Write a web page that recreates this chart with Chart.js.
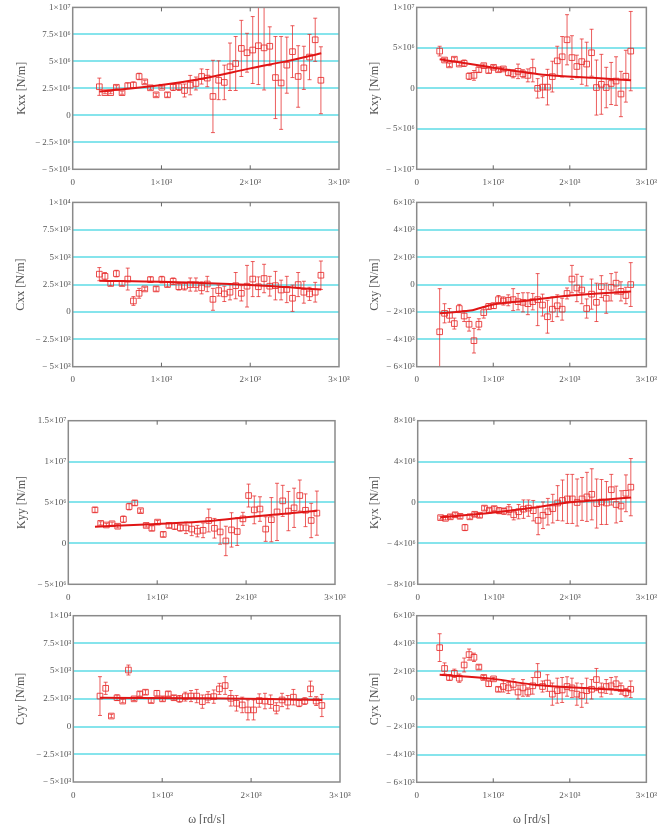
<!DOCTYPE html>
<html>
<head>
<meta charset="utf-8">
<script src="https://cdn.jsdelivr.net/npm/chart.js@4"></script>
<style>
  html, body { margin: 0; padding: 0; background: #fff; overflow: hidden; width: 665px; height: 824px; }
  canvas { position: absolute; }
</style>
</head>
<body>
<script>
// shared frequency axis, rad/s
const omega = [300, 364, 428, 492, 556, 620, 684, 748, 812, 876, 940, 1004, 1068, 1132, 1196, 1260, 1324, 1388, 1452, 1516,
  1580, 1644, 1708, 1772, 1836, 1900, 1964, 2028, 2092, 2156, 2220, 2284, 2348, 2412, 2476, 2540, 2604, 2668, 2732, 2796];
const omegaTicks = ['0', '1×10³', '2×10³', '3×10³'];

// Kxx, in 1e6 N/m
const kxxVal = [2.65, 2.1, 2.1, 2.6, 2.1, 2.75, 2.8, 3.6, 3.1, 2.55, 1.9, 2.6, 1.9, 2.6, 2.65, 2.3, 2.8, 2.95, 3.6, 3.45,
  1.75, 3.25, 3.05, 4.5, 4.8, 6.2, 5.8, 6.05, 6.45, 6.25, 6.4, 3.5, 3.0, 4.65, 5.9, 3.6, 4.4, 5.4, 7.0, 3.25];
const kxxErr = [0.8, 0.1, 0.1, 0.15, 0.15, 0.25, 0.3, 0.3, 0.15, 0.15, 0.15, 0.1, 0.2, 0.3, 0.35, 0.6, 0.9, 0.6, 0.7, 0.8,
  3.35, 1.8, 1.6, 2.2, 2.5, 2.6, 1.8, 3.1, 3.6, 3.9, 1.8, 3.8, 4.3, 2.6, 2.4, 2.85, 2.0, 2.1, 2.0, 3.1];
const kxxFitW = [300, 1000, 1500, 2000, 2400, 2800];
const kxxFit = [2.2, 2.8, 3.45, 4.35, 5.0, 5.75];
const kxxTicks = ['− 5×10⁶', '− 2.5×10⁶', '0', '2.5×10⁶', '5×10⁶', '7.5×10⁶', '1×10⁷'];

// Kxy, in 1e6 N/m
const kxyVal = [4.6, 3.5, 2.9, 3.6, 3.0, 3.1, 1.5, 1.6, 2.3, 2.8, 2.2, 2.6, 2.3, 2.4, 1.95, 1.8, 2.1, 1.8, 1.6, 2.2,
  0.0, 0.15, 0.15, 1.45, 3.4, 3.9, 6.0, 3.8, 2.7, 3.3, 3.0, 4.4, 0.1, 0.5, 0.1, 0.6, 0.9, -0.7, 1.5, 4.6];
const kxyErr = [0.6, 0.2, 0.2, 0.2, 0.2, 0.4, 0.4, 0.6, 0.3, 0.2, 0.3, 0.2, 0.2, 0.2, 0.4, 0.5, 0.9, 0.5, 0.8, 1.4,
  1.2, 1.3, 2.2, 1.9, 1.8, 2.5, 3.1, 2.7, 1.4, 2.8, 2.7, 2.9, 3.4, 3.7, 2.5, 2.6, 3.0, 2.8, 3.2, 4.9];
const kxyFitW = [300, 1000, 1700, 2300, 2800];
const kxyFit = [3.6, 2.55, 1.65, 1.3, 1.0];
const kxyTicks = ['− 1×10⁷', '− 5×10⁶', '0', '5×10⁶', '1×10⁷'];

// Cxx, in 1e3
const cxxVal = [3.45, 3.25, 2.6, 3.5, 2.6, 3.0, 1.0, 1.7, 2.1, 2.95, 2.1, 2.95, 2.5, 2.8, 2.3, 2.35, 2.5, 2.5, 2.2, 2.55,
  1.15, 1.95, 1.65, 1.8, 2.4, 1.7, 2.35, 3.0, 2.3, 3.05, 2.35, 2.4, 2.0, 2.05, 1.25, 2.5, 1.8, 1.65, 1.8, 3.35];
const cxxErr = [0.6, 0.35, 0.2, 0.3, 0.2, 1.0, 0.4, 0.45, 0.15, 0.25, 0.2, 0.3, 0.2, 0.3, 0.3, 0.35, 0.6, 0.6, 0.55, 0.7,
  1.0, 0.5, 0.7, 0.7, 1.2, 0.7, 1.9, 1.6, 0.9, 1.3, 0.9, 1.3, 0.9, 1.2, 1.2, 1.1, 1.0, 0.6, 0.9, 1.3];
const cxxFitW = [300, 1000, 2000, 2800];
const cxxFit = [2.85, 2.75, 2.45, 2.05];
const cxxTicks = ['− 5×10³', '− 2.5×10³', '0', '2.5×10³', '5×10³', '7.5×10³', '1×10⁴'];

// Cxy, in 1e3
const cxyVal = [-3.45, -2.1, -2.25, -2.85, -1.75, -2.3, -2.9, -4.1, -2.9, -2.05, -1.6, -1.55, -1.1, -1.2, -1.15, -1.1, -1.25, -1.3, -1.4, -1.25,
  -1.1, -1.5, -2.35, -1.8, -1.55, -1.8, -0.65, 0.4, -0.25, -0.4, -1.75, -0.7, -1.3, -0.15, -1.0, -0.2, 0.1, -0.5, -0.8, 0.0];
const cxyErr = [3.15, 0.7, 0.5, 0.4, 0.3, 0.4, 0.5, 0.9, 0.4, 0.4, 0.2, 0.2, 0.3, 0.3, 0.4, 0.8, 0.6, 0.7, 0.8, 0.6,
  1.9, 0.8, 1.2, 0.9, 0.8, 0.8, 0.4, 1.0, 1.0, 1.0, 0.7, 1.1, 1.4, 0.8, 1.1, 1.0, 0.8, 0.7, 0.6, 1.6];
const cxyFitW = [300, 700, 1000, 1400, 2000, 2800];
const cxyFit = [-2.1, -1.9, -1.45, -1.2, -0.8, -0.5];
const cxyTicks = ['− 6×10³', '− 4×10³', '− 2×10³', '0', '2×10³', '4×10³', '6×10³'];

// Kyy, in 1e6 N/m
const kyyVal = [4.1, 2.45, 2.25, 2.4, 2.1, 2.95, 4.5, 4.95, 4.0, 2.2, 1.85, 2.6, 1.1, 2.2, 2.1, 1.9, 1.9, 1.75, 1.5, 1.6,
  2.8, 1.85, 1.4, 0.3, 1.65, 1.45, 3.0, 5.85, 4.1, 4.2, 1.75, 2.9, 3.85, 5.2, 3.95, 4.35, 5.85, 4.05, 2.8, 3.7];
const kyyErr = [0.3, 0.2, 0.2, 0.2, 0.2, 0.4, 0.4, 0.3, 0.2, 0.2, 0.3, 0.2, 0.3, 0.3, 0.4, 0.4, 0.7, 0.8, 0.7, 0.9,
  1.4, 1.2, 1.5, 1.8, 2.1, 1.7, 0.8, 1.4, 1.7, 1.5, 1.5, 2.7, 3.5, 1.9, 2.4, 2.4, 1.9, 2.0, 2.1, 2.7];
const kyyFitW = [300, 1000, 1600, 2000, 2400, 2800];
const kyyFit = [2.05, 2.37, 2.74, 3.2, 3.6, 4.0];
const kyyTicks = ['− 5×10⁶', '0', '5×10⁶', '1×10⁷', '1.5×10⁷'];

// Kyx, in 1e6 N/m
const kyxVal = [-1.48, -1.55, -1.4, -1.2, -1.35, -2.45, -1.4, -1.15, -1.25, -0.55, -0.75, -0.6, -0.8, -0.85, -0.7, -1.2, -0.9, -0.65, -0.55, -0.8,
  -1.75, -1.25, -0.9, -0.6, -0.05, 0.2, 0.35, 0.35, 0.0, 0.35, 0.55, 0.8, -0.1, 0.05, -0.05, 1.25, -0.2, -0.35, 0.9, 1.5];
const kyxErr = [0.15, 0.15, 0.2, 0.2, 0.2, 0.3, 0.2, 0.2, 0.2, 0.2, 0.2, 0.2, 0.3, 0.3, 0.5, 0.5, 0.7, 0.9, 0.8, 1.0,
  1.4, 1.3, 1.3, 1.4, 1.7, 2.0, 2.4, 2.4, 2.3, 2.1, 2.4, 2.5, 2.4, 2.2, 2.1, 1.5, 1.8, 1.5, 1.8, 2.8];
const kyxFitW = [300, 1000, 1500, 2000, 2400, 2800];
const kyxFit = [-1.45, -0.98, -0.52, 0.03, 0.25, 0.49];
const kyxTicks = ['− 8×10⁶', '− 4×10⁶', '0', '4×10⁶', '8×10⁶'];

// Cyy, in 1e3
const cyyVal = [2.75, 3.45, 0.95, 2.6, 2.3, 5.1, 2.5, 2.95, 3.1, 2.35, 3.0, 2.5, 2.95, 2.6, 2.5, 2.7, 2.75, 2.75, 2.25, 2.65,
  2.7, 3.4, 3.7, 2.55, 2.1, 1.95, 1.5, 1.5, 2.35, 2.3, 2.25, 1.65, 2.4, 2.2, 2.65, 2.1, 2.3, 3.4, 2.3, 1.9];
const cyyErr = [1.75, 0.55, 0.15, 0.25, 0.15, 0.45, 0.15, 0.2, 0.2, 0.2, 0.25, 0.2, 0.2, 0.2, 0.3, 0.4, 0.5, 0.6, 0.6, 0.5,
  0.6, 0.5, 0.8, 0.7, 0.7, 0.7, 0.9, 0.9, 0.6, 0.7, 0.6, 0.5, 0.6, 0.6, 0.7, 0.3, 0.3, 0.7, 0.4, 1.0];
const cyyFitW = [300, 1500, 2800];
const cyyFit = [2.6, 2.55, 2.4];
const cyyTicks = cxxTicks;

// Cyx, in 1e3
const cyxVal = [3.7, 2.2, 1.55, 1.85, 1.5, 2.45, 3.2, 3.0, 2.3, 1.55, 1.1, 1.45, 0.7, 0.9, 0.8, 1.05, 0.5, 0.8, 0.5, 0.95,
  1.75, 0.9, 1.15, 0.35, 0.6, 0.65, 0.9, 0.8, 0.35, 0.25, 0.6, 0.7, 1.4, 0.65, 0.9, 0.95, 1.1, 0.75, 0.45, 0.7];
const cyxErr = [1.0, 0.4, 0.2, 0.3, 0.3, 0.5, 0.4, 0.3, 0.15, 0.15, 0.2, 0.1, 0.15, 0.4, 0.4, 0.4, 0.5, 0.6, 0.3, 0.6,
  0.8, 0.4, 0.6, 0.8, 0.9, 0.9, 0.7, 0.7, 0.8, 0.85, 0.9, 0.7, 0.8, 0.5, 0.5, 0.6, 0.5, 0.4, 0.3, 0.6];
const cyxFitW = [300, 1000, 1500, 2000, 2800];
const cyxFit = [1.75, 1.45, 1.05, 0.85, 0.6];
const cyxTicks = cxyTicks;

const FONT = 'Liberation Serif';
const TEXT = '#555';
const GRID = '#86e4ec';
const RED = 'rgba(232, 45, 45, 0.85)';

// error bars + frame, drawn with the chart's own scales
const errorBars = {
  id: 'errorBars',
  beforeDatasetsDraw(chart) {
    const {ctx, chartArea: a, scales: {x, y}} = chart;
    const ds = chart.data.datasets[1];
    ctx.save();
    ctx.beginPath();
    ctx.rect(a.left, a.top, a.width, a.height);
    ctx.clip();
    ctx.strokeStyle = 'rgba(230, 40, 40, 0.75)';
    ctx.lineWidth = 1;
    ds.data.forEach((p, i) => {
      const px = x.getPixelForValue(p.x);
      const hi = y.getPixelForValue(p.y + ds.errors[i]);
      const lo = y.getPixelForValue(p.y - ds.errors[i]);
      ctx.beginPath();
      ctx.moveTo(px, hi); ctx.lineTo(px, lo);
      ctx.moveTo(px - 2, hi); ctx.lineTo(px + 2, hi);
      ctx.moveTo(px - 2, lo); ctx.lineTo(px + 2, lo);
      ctx.stroke();
    });
    ctx.restore();
  },
  afterDraw(chart) {
    const {ctx, chartArea: a, scales: {x}} = chart;
    ctx.save();
    ctx.strokeStyle = '#8a8a8a';
    ctx.lineWidth = 1.5;
    ctx.strokeRect(a.left, a.top, a.width, a.height);
    ctx.strokeStyle = '#666';
    ctx.lineWidth = 1;
    [1000, 2000].forEach(v => {
      const px = x.getPixelForValue(v);
      ctx.beginPath();
      ctx.moveTo(px, a.top); ctx.lineTo(px, a.top + 4);
      ctx.moveTo(px, a.bottom); ctx.lineTo(px, a.bottom - 4);
      ctx.stroke();
    });
    ctx.restore();
  }
};

const panels = [
  {title: 'Kxx [N/m]', val: kxxVal, err: kxxErr, fitW: kxxFitW, fit: kxxFit, unit: 1e6, yMin: -5e6, yMax: 1e7, yStep: 2.5e6, labels: kxxTicks,
    box: [0, 0, 360, 195], area: [72.7, 5.7, 339, 169.3], titleX: 22},
  {title: 'Kxy [N/m]', val: kxyVal, err: kxyErr, fitW: kxyFitW, fit: kxyFit, unit: 1e6, yMin: -1e7, yMax: 1e7, yStep: 5e6, labels: kxyTicks,
    box: [345, 0, 320, 195], area: [416.7, 5.7, 647.3, 169.3], titleX: 30},
  {title: 'Cxx [N/m]', val: cxxVal, err: cxxErr, fitW: cxxFitW, fit: cxxFit, unit: 1e3, yMin: -5e3, yMax: 1e4, yStep: 2.5e3, labels: cxxTicks,
    box: [0, 195, 360, 200], area: [72.7, 202.3, 339, 366.7], titleX: 21},
  {title: 'Cxy [N/m]', val: cxyVal, err: cxyErr, fitW: cxyFitW, fit: cxyFit, unit: 1e3, yMin: -6e3, yMax: 6e3, yStep: 2e3, labels: cxyTicks,
    box: [345, 195, 320, 200], area: [416.7, 202.3, 647.3, 366.7], titleX: 30},
  {title: 'Kyy [N/m]', val: kyyVal, err: kyyErr, fitW: kyyFitW, fit: kyyFit, unit: 1e6, yMin: -5e6, yMax: 1.5e7, yStep: 5e6, labels: kyyTicks,
    box: [0, 405, 360, 200], area: [68.3, 420.7, 335, 584.3], titleX: 22},
  {title: 'Kyx [N/m]', val: kyxVal, err: kyxErr, fitW: kyxFitW, fit: kyxFit, unit: 1e6, yMin: -8e6, yMax: 8e6, yStep: 4e6, labels: kyxTicks,
    box: [345, 405, 320, 200], area: [417.7, 420.7, 648.3, 584.3], titleX: 30},
  {title: 'Cyy [N/m]', val: cyyVal, err: cyyErr, fitW: cyyFitW, fit: cyyFit, unit: 1e3, yMin: -5e3, yMax: 1e4, yStep: 2.5e3, labels: cyyTicks,
    box: [0, 605, 360, 222], area: [73.3, 615.7, 340, 782], titleX: 21, xTitle: 'ω [rd/s]'},
  {title: 'Cyx [N/m]', val: cyxVal, err: cyxErr, fitW: cyxFitW, fit: cyxFit, unit: 1e3, yMin: -6e3, yMax: 6e3, yStep: 2e3, labels: cyxTicks,
    box: [345, 605, 320, 222], area: [416.7, 615.7, 648.3, 782.3], titleX: 30, xTitle: 'ω [rd/s]'}
];

function makePanel(p) {
  const [cl, ct, cw, ch] = p.box;
  const [al, at, ar, ab] = p.area;
  const cv = document.createElement('canvas');
  cv.width = cw; cv.height = ch;
  cv.style.left = cl + 'px'; cv.style.top = ct + 'px';
  cv.style.width = cw + 'px'; cv.style.height = ch + 'px';
  document.body.appendChild(cv);

  const pts = omega.map((w, i) => ({x: w, y: p.val[i] * p.unit}));
  const fitPts = p.fitW.map((w, i) => ({x: w, y: p.fit[i] * p.unit}));

  new Chart(cv, {
    type: 'scatter',
    data: {
      datasets: [
        {data: fitPts, showLine: true, borderColor: '#e01515', borderWidth: 2, pointRadius: 0, cubicInterpolationMode: 'monotone'},
        {data: pts, errors: p.err.map(e => e * p.unit), pointStyle: 'rect', pointRadius: 4, borderWidth: 1,
          borderColor: RED, backgroundColor: 'rgba(255,255,255,0)'}
      ]
    },
    options: {
      responsive: false,
      animation: false,
      events: [],
      layout: {padding: {left: 0, top: at - ct, right: cl + cw - ar, bottom: 0}},
      plugins: {legend: {display: false}, tooltip: {enabled: false}},
      scales: {
        x: {
          type: 'linear', min: 0, max: 3000,
          afterFit: s => { s.height = ch - (ab - ct); },
          grid: {display: false, drawTicks: false},
          border: {display: false},
          ticks: {stepSize: 1000, autoSkip: false, maxRotation: 0, padding: 8, color: TEXT,
            font: {family: FONT, size: 9}, callback: (v, i) => omegaTicks[i]},
          title: {display: !!p.xTitle, text: p.xTitle || '', color: TEXT, padding: 0, font: {family: FONT, size: 12}}
        },
        y: {
          min: p.yMin, max: p.yMax,
          afterFit: s => { s.width = al - cl; },
          grid: {
            drawTicks: false, lineWidth: 2,
            color: c => (c.tick && c.tick.value > p.yMin && c.tick.value < p.yMax) ? GRID : 'rgba(0,0,0,0)'
          },
          border: {display: false},
          ticks: {stepSize: p.yStep, autoSkip: false, padding: 2, color: TEXT,
            font: {family: FONT, size: 9}, callback: (v, i) => p.labels[i]},
          title: {display: true, text: p.title, color: TEXT, padding: {top: p.titleX - 7.2, bottom: 0},
            font: {family: FONT, size: 12}}
        }
      }
    },
    plugins: [errorBars]
  });
}

panels.forEach(makePanel);
</script>
</body>
</html>
